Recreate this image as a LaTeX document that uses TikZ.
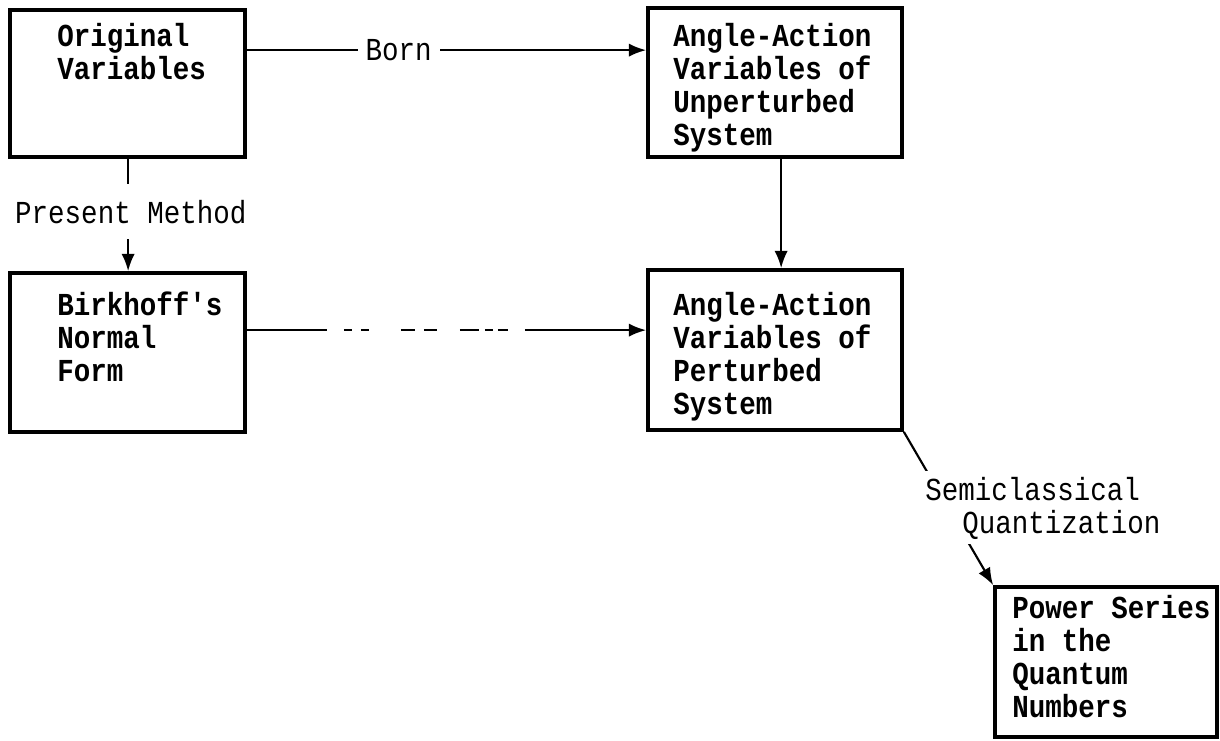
\documentclass[tikz,border=0pt]{standalone}
\usepackage{fontspec}
\newfontfamily\tw{Liberation Mono}[FakeStretch=0.86]
\usetikzlibrary{fit,calc,arrows.meta}
\begin{document}
\begin{tikzpicture}[x=0.75pt,y=-0.75pt,
  box/.style={draw, line width=2.8pt, inner sep=0pt},
  boxtext/.style={font=\tw\bfseries\fontsize{24}{24.75}\selectfont, align=left, inner sep=0pt, anchor=base west},
  lbl/.style={font=\tw\fontsize{24}{24.75}\selectfont, inner sep=0pt, fill=white},
  conn/.style={line width=1.6pt},
  arr/.style={-{Latex[length=13pt,width=10pt]}},
  brk/.style={dash pattern=on 60pt off 12.75pt on 6pt off 6.75pt on 6pt off 24pt on 10.5pt off 6.75pt on 9.75pt off 17.25pt on 14.25pt off 4.5pt on 6pt off 3.75pt on 7.5pt off 12.75pt on 150pt off 1pt}]
\useasboundingbox (0,0) rectangle (1220,740);
% boxes
\node[box, fit={(10,10) (245,157)}] (A) {};
\node[box, fit={(10,273) (245,432)}] (B) {};
\node[box, fit={(648,8) (902,157)}] (C) {};
\node[box, fit={(648,270) (902,430)}] (D) {};
\node[box, fit={(995,587) (1217,737)}] (E) {};
% box texts (anchor: baseline of last line)
\node[boxtext] (At) at (57,79) {Original\\Variables};
\node[boxtext] (Bt) at (57,381) {Birkhoff's\\Normal\\Form};
\node[boxtext] (Ct) at (673,145) {Angle-Action\\Variables of\\Unperturbed\\System};
\node[boxtext] (Dt) at (673,414) {Angle-Action\\Variables of\\Perturbed\\System};
\node[boxtext] (Et) at (1012,717) {Power Series\\in the\\Quantum\\Numbers};
% connectors
\draw[conn,arr] ($(A.north east)+(0,42)$) -- ($(C.north west)+(0,44)$)
  node[lbl, pos=0.38, inner xsep=6pt, inner ysep=3pt] (born) {Born};
\draw[conn,arr] ($(A.south west)+(120,0)$) -- ($(B.north west)+(120,0)$)
  node[lbl, pos=0.47, xshift=2pt, inner xsep=2pt, inner ysep=12pt] (pm) {Present Method};
\draw[conn,arr] ($(C.south west)+(135,0)$) -- ($(D.north west)+(135,0)$);
\draw[conn,arr,brk] ($(B.north east)+(0,59)$) -- ($(D.north west)+(0,62)$);
\draw[conn,arr] (D.south east) -- (E.north west);
\node[lbl, align=left, anchor=base west, inner ysep=4pt] (sq) at (925,533) {Semiclassical\\\hspace*{27.75pt}Quantization};
\end{tikzpicture}
\end{document}
